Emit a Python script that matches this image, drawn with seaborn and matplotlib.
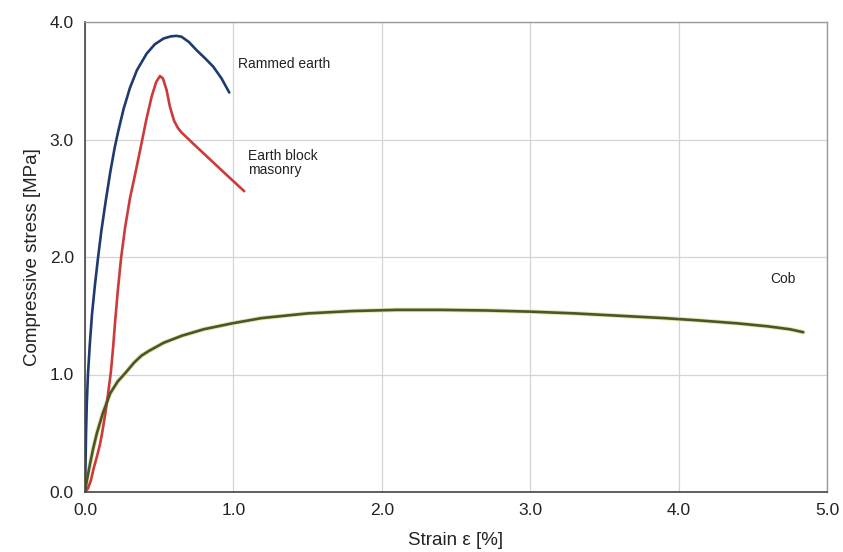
import matplotlib
matplotlib.use("Agg")
import matplotlib.pyplot as plt
import seaborn as sns
import pandas as pd

# Data
rammed_x = [0.0, 0.003, 0.007, 0.012, 0.02, 0.032, 0.047, 0.066, 0.0875, 0.11, 0.14, 0.17, 0.20, 0.224, 0.26, 0.303, 0.35, 0.415,
            0.47, 0.53, 0.58, 0.617, 0.65, 0.70, 0.752, 0.81, 0.864, 0.92, 0.972]
rammed_y = [0.0, 0.20, 0.50, 0.75, 1.00, 1.25, 1.51, 1.75, 1.99, 2.22, 2.48, 2.72, 2.93, 3.07, 3.26, 3.44, 3.59, 3.73,
            3.81, 3.86, 3.878, 3.882, 3.875, 3.83, 3.76, 3.69, 3.62, 3.52, 3.40]

block_x = [0.0, 0.02, 0.04, 0.058, 0.08, 0.10, 0.115, 0.135, 0.155, 0.175, 0.19, 0.203, 0.22, 0.243, 0.27, 0.303, 0.337, 0.37,
           0.415, 0.45, 0.48, 0.505, 0.525, 0.55, 0.572, 0.60, 0.625, 0.65, 0.75, 0.86, 0.97, 1.073]
block_y = [0.0, 0.03, 0.10, 0.20, 0.30, 0.40, 0.50, 0.65, 0.83, 1.03, 1.24, 1.45, 1.70, 1.99, 2.25, 2.50, 2.70, 2.90,
           3.18, 3.37, 3.49, 3.54, 3.52, 3.42, 3.28, 3.16, 3.10, 3.06, 2.94, 2.81, 2.68, 2.56]

cob_x = [0.0, 0.01, 0.03, 0.055, 0.08, 0.12, 0.17, 0.22, 0.27, 0.33, 0.38, 0.43, 0.53, 0.653, 0.80, 0.99, 1.19, 1.5, 1.8,
         2.1, 2.4, 2.7, 3.0, 3.3, 3.6, 3.9, 4.14, 4.4, 4.6, 4.75, 4.84]
cob_y = [0.0, 0.08, 0.215, 0.37, 0.50, 0.67, 0.84, 0.94, 1.01, 1.10, 1.16, 1.20, 1.27, 1.33, 1.385, 1.435, 1.48, 1.52, 1.54,
         1.55, 1.55, 1.545, 1.535, 1.52, 1.50, 1.48, 1.46, 1.435, 1.41, 1.385, 1.36]

x_ticks = [0.0, 1.0, 2.0, 3.0, 4.0, 5.0]
y_ticks = [0.0, 1.0, 2.0, 3.0, 4.0]
labels = ["Rammed earth", "Earth block\nmasonry", "Cob"]

df = pd.concat([
    pd.DataFrame({"strain": rammed_x, "stress": rammed_y, "material": labels[0]}),
    pd.DataFrame({"strain": block_x, "stress": block_y, "material": labels[1]}),
    pd.DataFrame({"strain": cob_x, "stress": cob_y, "material": labels[2]}),
], ignore_index=True)

sns.set_style("whitegrid")
plt.rcParams["font.family"] = ["Liberation Sans", "DejaVu Sans"]

fig = plt.figure(figsize=(8.43, 5.52), dpi=100)
ax = fig.add_axes([85/843, 60/552, (827-85)/843, (492-22)/552])

palette = {labels[0]: "#1f3a6e", labels[1]: "#cc3a3a", labels[2]: "#4b5626"}
# subtle halo under the Cob line
sns.lineplot(data=df[df.material == labels[2]], x="strain", y="stress", sort=False,
             color="#e4e4b4", lw=3.2, ax=ax, legend=False, estimator=None)
sns.lineplot(data=df, x="strain", y="stress", hue="material", palette=palette,
             sort=False, estimator=None, lw=1.9, ax=ax, legend=False)
for ln in ax.get_lines():
    ln.set_solid_joinstyle("round")
    ln.set_solid_capstyle("round")

ax.set_xlim(0, 5)
ax.set_ylim(0, 4)
ax.set_xticks(x_ticks)
ax.set_yticks(y_ticks)
ax.set_xticklabels([f"{v:.1f}" for v in x_ticks], fontsize=12.5)
ax.set_yticklabels([f"{v:.1f}" for v in y_ticks], fontsize=12.5)
ax.grid(True, color="#d4d4d4", lw=0.9)
for s in ["left", "bottom"]:
    ax.spines[s].set_color("#444444")
    ax.spines[s].set_linewidth(1.2)
for s in ["top", "right"]:
    ax.spines[s].set_color("#9a9a9a")
    ax.spines[s].set_linewidth(1.0)
ax.tick_params(axis="both", direction="out", length=4, width=1, color="#444444",
               labelcolor="#222222", pad=4)

ax.set_xlabel("Strain ε [%]", fontsize=13.5, color="#222222", labelpad=10)
ax.set_ylabel("Compressive stress [MPa]", fontsize=13.5, color="#222222", labelpad=6)

ax.text(1.03, 3.64, labels[0], fontsize=10, color="#222222", va="center", ha="left")
ax.text(1.10, 2.80, labels[1], fontsize=10, color="#222222", va="center", ha="left", linespacing=1.05)
ax.text(4.62, 1.81, labels[2], fontsize=10, color="#222222", va="center", ha="left")

fig.savefig("out.png", dpi=100)
